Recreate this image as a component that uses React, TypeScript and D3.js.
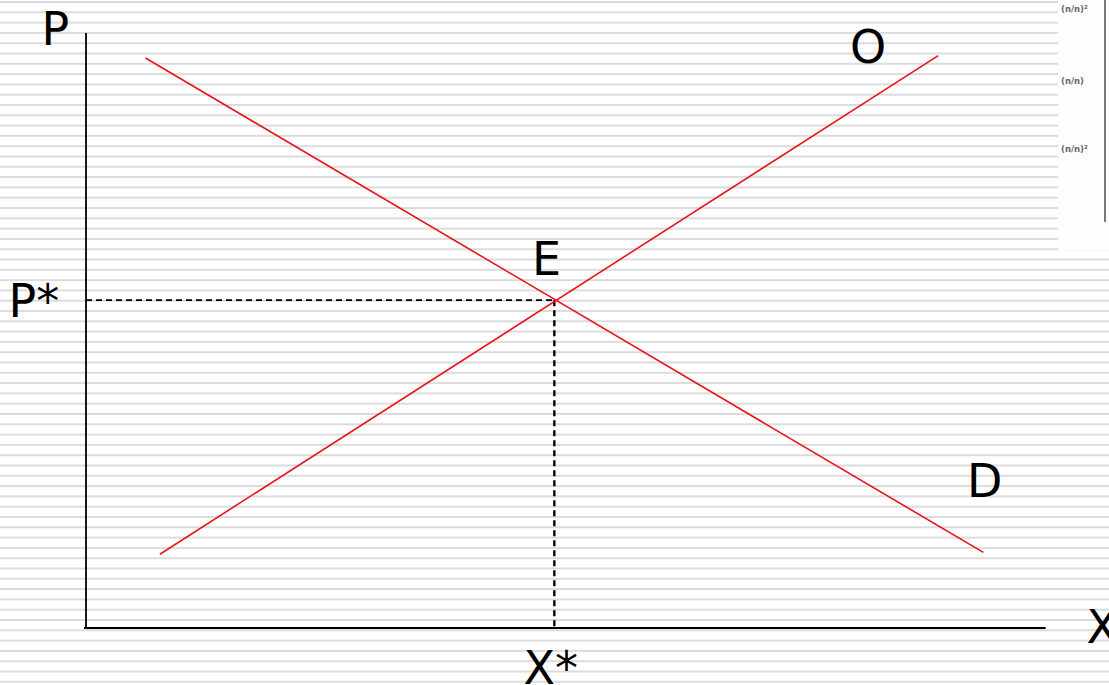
import React from "react";
import * as d3 from "d3";

// Data (arbitrary units: quantity 0..100, price 0..100)
const demandQ = [6.2, 93.5];
const demandP = [95.8, 12.7];
const supplyQ = [7.7, 88.8];
const supplyP = [12.4, 96.2];
const equilibrium = { q: 48.8, p: 55.1 };
const curveLabels = ["O", "D", "E"];
const axisLabels = ["P", "X", "P*", "X*"];
const insetLabels = ["(n/n)²", "(n/n)", "(n/n)²"];

const W = 1109;
const H = 685;

export default function App() {
  const x = d3.scaleLinear().domain([0, 100]).range([86, 1045.7]);
  const y = d3.scaleLinear().domain([0, 100]).range([628, 33]);
  const line = d3
    .line<[number, number]>()
    .x((d) => x(d[0]))
    .y((d) => y(d[1]));
  const demand: [number, number][] = demandQ.map((q, i) => [q, demandP[i]]);
  const supply: [number, number][] = supplyQ.map((q, i) => [q, supplyP[i]]);

  const stripes = d3.range(0, 67).map((i) => 1 + i * 10.3);
  const font = "'DejaVu Sans', Verdana, sans-serif";
  const fs = 46;

  return (
    <svg
      width={W}
      height={H}
      style={{ position: "absolute", left: 0, top: 0, background: "#fff" }}
    >
      {stripes.map((sy, i) => (
        <rect key={i} x={0} y={sy} width={W} height={2} fill="#dcdcdc" />
      ))}
      {/* inset artifact top-right */}
      <rect x={1058} y={0} width={51} height={250} fill="#fdfdfd" />
      <rect x={1104} y={0} width={2} height={222} fill="#7a7a7a" />
      {insetLabels.map((t, i) => (
        <text
          key={i}
          x={1061}
          y={[12, 84, 152][i]}
          fontSize={8.5}
          fontWeight="bold"
          fill="#666"
          fontFamily={font}
        >
          {t}
        </text>
      ))}

      {/* axes */}
      <line x1={x(0)} x2={x(0)} y1={y(100)} y2={y(0) + 1} stroke="#000" strokeWidth={1.8} />
      <line x1={x(0) - 2} x2={x(100)} y1={y(0)} y2={y(0)} stroke="#000" strokeWidth={2} />

      {/* dashed guides */}
      <line
        x1={x(0)}
        x2={x(equilibrium.q)}
        y1={y(equilibrium.p)}
        y2={y(equilibrium.p)}
        stroke="#000"
        strokeWidth={1.8}
        strokeDasharray="6,4"
      />
      <line
        x1={x(equilibrium.q)}
        x2={x(equilibrium.q)}
        y1={y(equilibrium.p)}
        y2={y(0)}
        stroke="#000"
        strokeWidth={2.4}
        strokeDasharray="6,4"
      />

      {/* curves */}
      <path d={line(demand) || ""} stroke="#e8141c" strokeWidth={1.6} fill="none" />
      <path d={line(supply) || ""} stroke="#e8141c" strokeWidth={1.6} fill="none" />

      {/* labels */}
      <g fontFamily={font} fontSize={fs} fill="#000">
        <text x={41.5} y={45}>{axisLabels[0]}</text>
        <text x={1086.5} y={643}>{axisLabels[1]}</text>
        <text x={8.5} y={317}>{axisLabels[2]}</text>
        <text x={523.5} y={684}>{axisLabels[3]}</text>
        <text x={850} y={62.5}>{curveLabels[0]}</text>
        <text x={967} y={497}>{curveLabels[1]}</text>
        <text x={532} y={275}>{curveLabels[2]}</text>
      </g>
    </svg>
  );
}
